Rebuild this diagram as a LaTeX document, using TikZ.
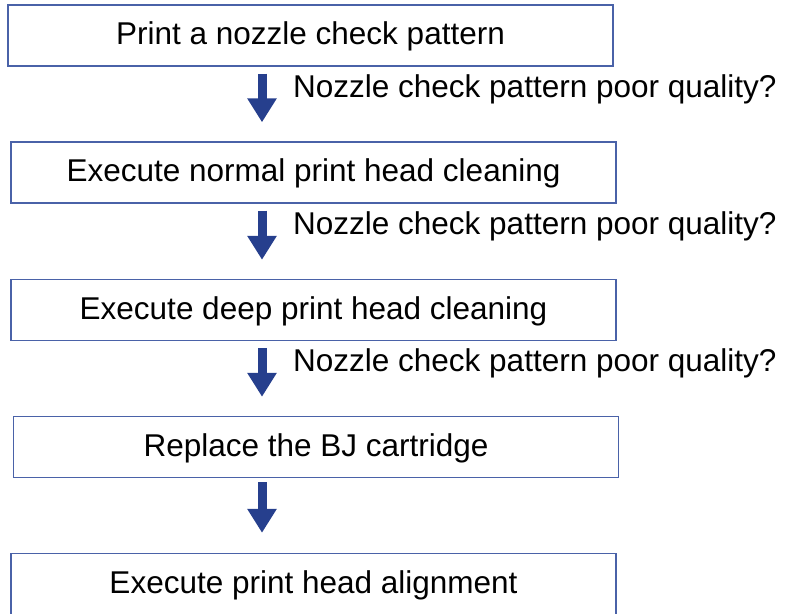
\documentclass[tikz,border=0pt]{standalone}
\usepackage{fontspec}
\setmainfont{Liberation Sans}
\usetikzlibrary{arrows.meta}
\definecolor{boxline}{HTML}{4A62A8}
\definecolor{flowblue}{HTML}{263F8D}
\tikzset{
  stepbox/.style={draw=boxline,line width=1.4pt,minimum width=605pt,minimum height=61pt,inner sep=0pt,
    text height=19pt,text depth=0pt},
  flowarrow/.style={flowblue,line width=9pt,-{Triangle[width=28pt,length=24pt]},shorten <=7pt,shorten >=19pt},
  cond/.style={anchor=base west,inner sep=0pt}
}
\begin{document}
\begin{tikzpicture}[x=1pt,y=1pt,font=\fontsize{31.5}{36}\selectfont]
  \useasboundingbox (0,0) rectangle (786,613);
  \coordinate (ax) at (262,0);
  % steps
  \node[stepbox] (nozzle) at (310.5,577.5) {Print a nozzle check pattern};
  \node[stepbox] (normal) at (313.5,440.5) {Execute normal print head cleaning};
  \node[stepbox] (deep) at (313.5,303) {Execute deep print head cleaning};
  \node[stepbox] (replace) at (316,166) {Replace the BJ cartridge};
  \node[stepbox] (align) at (313.5,29) {Execute print head alignment};
  % arrows
  \draw[flowarrow] (nozzle.south -| ax) -- (normal.north -| ax);
  \draw[flowarrow] (normal.south -| ax) -- (deep.north -| ax);
  \draw[flowarrow] (deep.south -| ax) -- (replace.north -| ax);
  \draw[flowarrow,shorten <=4pt,shorten >=20pt] (replace.south -| ax) -- (align.north -| ax);
  % conditions
  \node[cond] (q1) at (293,515) {Nozzle check pattern poor quality?};
  \node[cond] (q2) at (293,378) {Nozzle check pattern poor quality?};
  \node[cond] (q3) at (293,241) {Nozzle check pattern poor quality?};
\end{tikzpicture}
\end{document}
